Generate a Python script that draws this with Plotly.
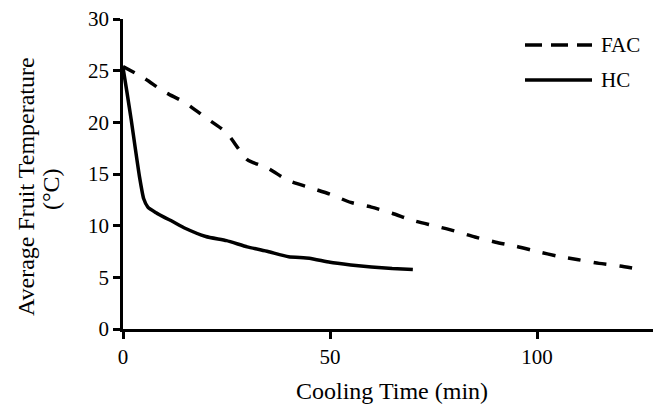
import plotly.graph_objects as go

# ---- data ----
fac_time = [0, 5, 10, 15, 20, 25, 30, 35, 40, 45, 50, 55, 60, 65, 70, 75, 80,
            85, 90, 95, 100, 105, 110, 115, 120, 125]
fac_temp = [25.4, 24.3, 22.95, 21.9, 20.45, 19.0, 16.4, 15.55, 14.35, 13.7, 13.05,
            12.25, 11.8, 11.2, 10.5, 10.0, 9.5, 8.9, 8.4, 8.0, 7.5, 7.05, 6.7,
            6.35, 6.1, 5.75]

hc_time = [0, 1, 2, 3, 4, 5, 6, 8, 10, 12, 15, 20, 25, 30, 35, 40, 45, 50, 55,
           60, 65, 70]
hc_temp = [25.3, 22.8, 20.2, 17.4, 14.7, 12.6, 11.8, 11.25, 10.8, 10.4, 9.75,
           8.95, 8.55, 7.95, 7.5, 7.0, 6.85, 6.45, 6.2, 6.0, 5.85, 5.75]

series_names = ["FAC", "HC"]
x_ticks = [0, 50, 100]
y_ticks = [0, 5, 10, 15, 20, 25, 30]
x_title = "Cooling Time (min)"
y_title_lines = ["Average Fruit Temperature", "(°C)"]

FONT = "Liberation Serif, Times New Roman, serif"

fig = go.Figure()
fig.add_trace(go.Scatter(x=fac_time, y=fac_temp, mode="lines", name=series_names[0],
                         line=dict(color="black", width=3.5, dash="13px,13px",
                                   shape="spline", smoothing=0.6),
                         showlegend=False))
fig.add_trace(go.Scatter(x=hc_time, y=hc_temp, mode="lines", name=series_names[1],
                         line=dict(color="black", width=3.5,
                                   shape="spline", smoothing=0.5),
                         showlegend=False))

W, H = 653, 406
L, R, T, B = 123, 0, 19, 77
pw = W - L - R
ph = H - T - B

def px_to_paper_x(px):
    return (px - L) / pw

def px_to_paper_y(py):
    return (H - B - py) / ph

fig.update_layout(
    width=W, height=H,
    margin=dict(l=L, r=R, t=T, b=B, pad=0),
    paper_bgcolor="white", plot_bgcolor="white",
    font=dict(family=FONT, size=21, color="black"),
    xaxis=dict(range=[0, 128], tickvals=x_ticks, ticktext=[str(v) for v in x_ticks],
               showgrid=False, zeroline=False, showline=True, linecolor="black",
               linewidth=2.5, ticks="outside", ticklen=7, tickwidth=2.5,
               tickcolor="black", tickfont=dict(size=21, family=FONT)),
    yaxis=dict(range=[0, 30], tickvals=y_ticks, ticktext=[str(v) for v in y_ticks],
               showgrid=False, zeroline=False, showline=True, linecolor="black",
               linewidth=2.5, ticks="outside", ticklen=7, tickwidth=2.5,
               tickcolor="black", tickfont=dict(size=21, family=FONT)),
    showlegend=False,
)

annotations = [
    dict(text=x_title, xref="paper", yref="paper", x=px_to_paper_x(392),
         y=px_to_paper_y(391), xanchor="center", yanchor="middle", showarrow=False,
         font=dict(size=24, family=FONT, color="black")),
    dict(text=y_title_lines[0], xref="paper", yref="paper", x=px_to_paper_x(26),
         y=px_to_paper_y(187), xanchor="center", yanchor="middle", showarrow=False,
         textangle=-90, font=dict(size=24, family=FONT, color="black")),
    dict(text=y_title_lines[1], xref="paper", yref="paper", x=px_to_paper_x(51),
         y=px_to_paper_y(189), xanchor="center", yanchor="middle", showarrow=False,
         textangle=-90, font=dict(size=24, family=FONT, color="black")),
]

# legend (drawn manually to match the long key samples)
legend_rows = [(series_names[0], 45, "17px,9px"), (series_names[1], 80, "solid")]
shapes = []
for name, py, dash in legend_rows:
    shapes.append(dict(type="line", xref="paper", yref="paper",
                       x0=px_to_paper_x(525), x1=px_to_paper_x(592),
                       y0=px_to_paper_y(py), y1=px_to_paper_y(py),
                       line=dict(color="black", width=3.5, dash=dash)))
    annotations.append(dict(text=name, xref="paper", yref="paper",
                            x=px_to_paper_x(599), y=px_to_paper_y(py),
                            xanchor="left", yanchor="middle", showarrow=False,
                            font=dict(size=21, family=FONT, color="black")))

fig.update_layout(annotations=annotations, shapes=shapes)
fig.write_html("out.html", config={"displayModeBar": False},
               post_script="document.body.style.margin='0';document.body.style.overflow='hidden';")
